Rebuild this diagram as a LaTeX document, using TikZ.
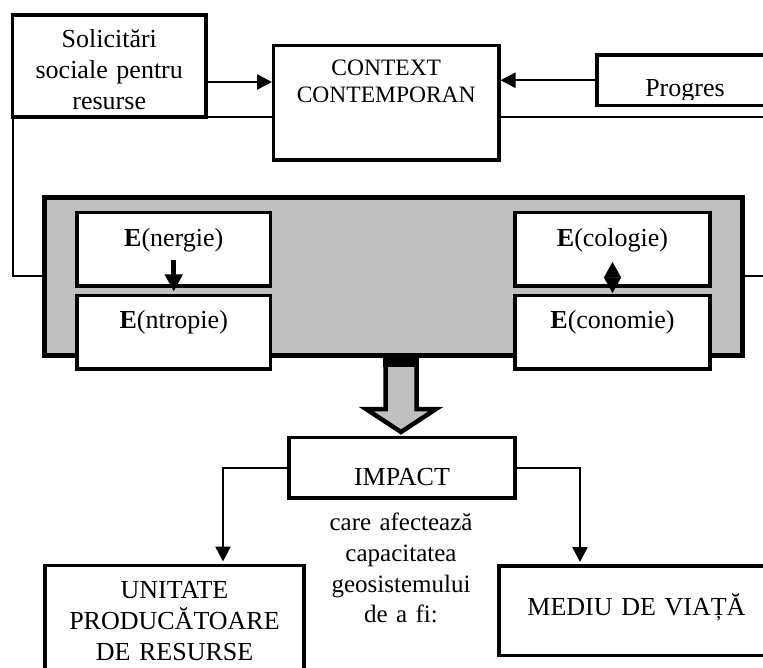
\documentclass[tikz,border=0pt]{standalone}
\usepackage{fontspec}
\setmainfont{Liberation Serif}
\usetikzlibrary{arrows.meta,calc}
\definecolor{panelgray}{RGB}{192,192,192}
\begin{document}
\begin{tikzpicture}[x=1pt,y=-1pt,
  box/.style={draw,line width=3.5pt,fill=white,inner sep=0pt,outer sep=0pt,
    align=center,anchor=north west,font=\fontsize{26}{31}\selectfont},
  thinline/.style={line width=2pt},
  arr/.style={line width=2.5pt,-{Triangle[length=15pt,width=15pt]}},
]
\clip (0,0) rectangle (763,668);
\fill[white] (0,0) rectangle (763,668);

% top row
\node[box,text width=193.5pt,text height=33pt,text depth=69pt] (soc) at (12.5,15)
  {Solicitări\\sociale pentru\\resurse};
\node[box,text width=225.5pt,text height=30.5pt,text depth=84pt,
  font=\fontsize{23.5}{27}\selectfont] (ctx) at (273.5,45.5)
  {CONTEXT\\CONTEMPORAN};
\node[box,minimum width=176pt,minimum height=50.5pt] (prog) at (597,55) {};
\begin{scope}
  \clip (599,57) rectangle (773,100);
  \node[font=\fontsize{26}{31}\selectfont,anchor=base,inner sep=0pt] (progtxt) at (685,97) {Progres};
\end{scope}

% central panel
\node[draw,line width=5pt,fill=panelgray,inner sep=0pt,outer sep=0pt,anchor=north west,
  minimum width=698pt,minimum height=158pt] (gray) at (44.5,197.5) {};
\node[box,text width=193.5pt,text height=34.2pt,text depth=39.3pt] (en) at (77,212.5)
  {\textbf{E}(nergie)};
\node[box,text width=193.5pt,text height=32.5pt,text depth=41pt] (ent) at (77,295.5)
  {\textbf{E}(ntropie)};
\node[box,text width=195pt,text height=34.2pt,text depth=39.3pt] (eco) at (515,212.5)
  {\textbf{E}(cologie)};
\node[box,text width=195pt,text height=32.5pt,text depth=41pt] (econ) at (515,295.5)
  {\textbf{E}(conomie)};

% lower part
\node[box,text width=226pt,text height=47.5pt,text depth=13pt] (imp) at (289,437.5) {IMPACT};
\node[box,text width=259pt,text height=32.5pt,text depth=92pt] (unit) at (45,565.5)
  {UNITATE\\PRODUCĂTOARE\\DE RESURSE};
\node[box,text width=275pt,text height=49pt,text depth=40.5pt] (med) at (499,566)
  {MEDIU DE VIAȚĂ};
\node[font=\fontsize{25}{30.7}\selectfont,align=center,text width=170pt,anchor=base,inner sep=0pt]
  (note) at (401,530.7) {care afectează\\capacitatea\\geosistemului\\de a fi:};

% free ends at the right edge
\coordinate (redgeA) at (780,117);
\coordinate (redgeB) at (780,276.5);

% connectors
\draw[thinline] (soc.south west) |- (gray.west);
\draw[thinline] (soc.south east) -- (soc.south east -| ctx.west);
\draw[thinline] (soc.south east -| ctx.east) -- (redgeA);
\draw[thinline] (gray.east) -- (redgeB);
\draw[arr,shorten >=1.5pt] ([yshift=-16pt]soc.east) -- ([yshift=-16pt]soc.east -| ctx.west);
\draw[arr,shorten >=1.5pt] (prog.west) -- (prog.west -| ctx.east);
\draw[arr,shorten >=4pt] (imp.west) -| ([xshift=48.5pt]unit.north);
\draw[arr,shorten >=4pt] (imp.east) -| ([xshift=-56.5pt]med.north);

\draw[line width=5pt,-{Triangle[length=17pt,width=17pt]}]
  ([yshift=26pt]en.south) -- ([yshift=4pt]ent.north);
\draw[line width=0.5pt,{Triangle[length=15.5pt,width=17pt]}-{Triangle[length=15.5pt,width=17pt]}]
  ([yshift=24pt]eco.south) -- ([yshift=2.5pt]econ.north);

% big block arrow from the panel to IMPACT
\filldraw[fill=panelgray,line width=4.5pt,line join=miter]
  (385.5,355.5) -- (385.5,409) -- (366,409) -- (401,432) -- (436,409) -- (416.5,409) -- (416.5,355.5);
\fill[black] (383,355) rectangle (419,367);
\end{tikzpicture}
\end{document}
